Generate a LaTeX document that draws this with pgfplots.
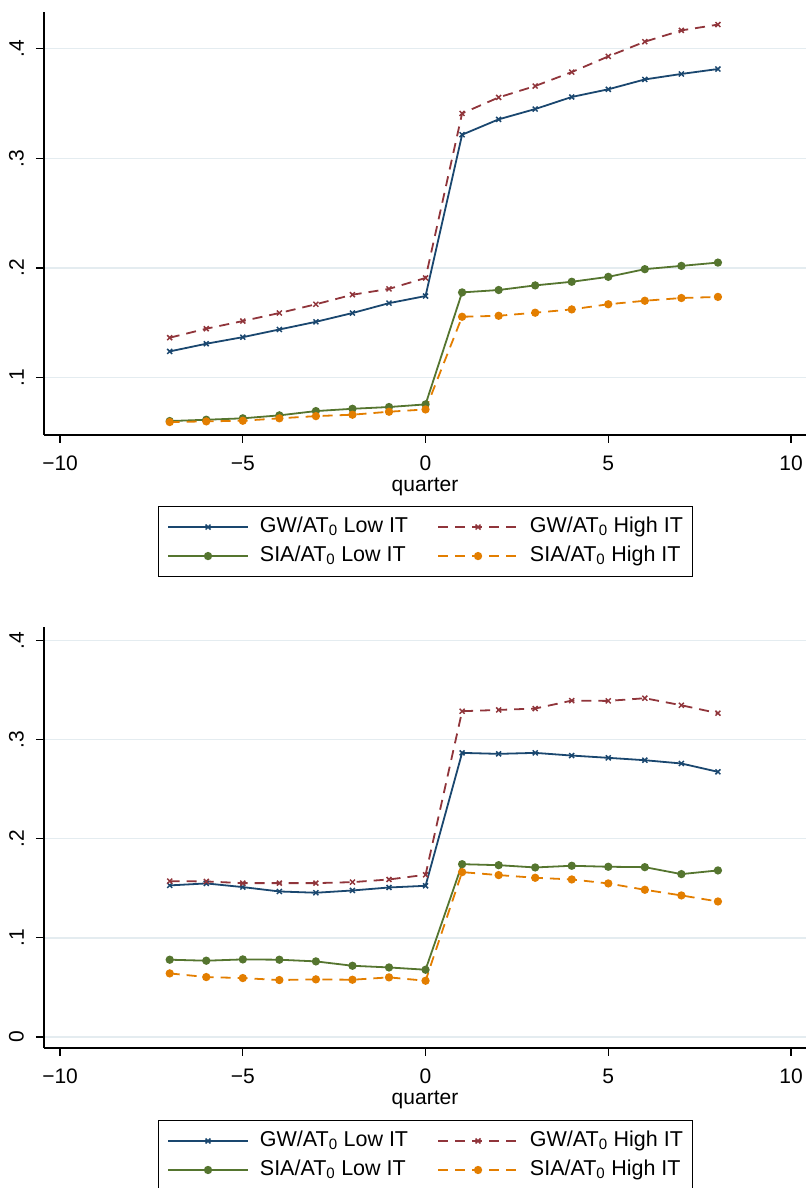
\documentclass[border=0pt]{standalone}
\usepackage{pgfplots}
\usepackage{pgfplotstable}
\pgfplotsset{compat=1.18}
\usepackage{fontspec}
\setmainfont{Liberation Sans}
\definecolor{snavy}{RGB}{26,71,111}
\definecolor{smaroon}{RGB}{144,53,59}
\definecolor{sgreen}{RGB}{85,117,47}
\definecolor{sorange}{RGB}{227,126,0}
\definecolor{sgrid}{RGB}{228,236,240}

\pgfplotstableread{
q gwlo gwhi sialo siahi
-7 0.124 0.1365 0.0605 0.0596
-6 0.131 0.1447 0.0617 0.0602
-5 0.137 0.1517 0.063 0.0608
-4 0.144 0.159 0.0657 0.063
-3 0.151 0.167 0.0696 0.065
-2 0.159 0.1757 0.0717 0.0663
-1 0.168 0.181 0.0733 0.069
0 0.1745 0.191 0.0757 0.0711
1 0.3216 0.341 0.1778 0.1556
2 0.3356 0.3556 0.18 0.1565
3 0.345 0.366 0.1842 0.1593
4 0.356 0.3787 0.1875 0.1623
5 0.363 0.393 0.192 0.167
6 0.372 0.4064 0.199 0.1702
7 0.377 0.4167 0.202 0.1727
8 0.3815 0.422 0.205 0.1737
}\toptable

\pgfplotstableread{
q gwlo gwhi sialo siahi
-7 0.1529 0.1572 0.078 0.0642
-6 0.1549 0.1569 0.077 0.0605
-5 0.1512 0.1552 0.0783 0.0595
-4 0.1468 0.1552 0.078 0.0575
-3 0.1455 0.1552 0.0763 0.0582
-2 0.1478 0.1562 0.0719 0.0578
-1 0.1508 0.1589 0.0702 0.0602
0 0.1525 0.1636 0.0679 0.0568
1 0.2865 0.3285 0.1743 0.1663
2 0.2855 0.3298 0.1733 0.1633
3 0.2865 0.3312 0.171 0.1606
4 0.2838 0.3392 0.1727 0.1589
5 0.2815 0.3389 0.1717 0.1549
6 0.2791 0.3416 0.1713 0.1485
7 0.2758 0.3345 0.1643 0.1428
8 0.2674 0.3265 0.168 0.1367
}\bottable

\newcommand{\rl}[1]{\rotatebox{90}{#1}}

\pgfplotsset{
 stata/.style={
  scale only axis, width=762pt,
  xmin=-10.44, xmax=10.41,
  axis x line*=bottom, axis y line*=left,
  axis line style={black, line width=1.2pt, -},
  tick align=outside, major tick length=8pt,
  tick style={black, line width=1.2pt},
  xtick={-10,-5,0,5,10}, xticklabels={−10,−5,0,5,10},
  ymajorgrids, grid style={sgrid, line width=1.5pt},
  ticklabel style={font=\fontsize{21}{25}\selectfont, inner sep=0pt},
  xticklabel shift=13pt,
  yticklabel style={anchor=east, xshift=-12pt},
  xlabel={quarter}, xlabel style={font=\fontsize{21}{25}\selectfont, yshift=-3pt},
  legend columns=2,
  legend image code/.code={\draw[mark repeat=2,mark phase=2,##1] plot coordinates {(0pt,0pt) (40pt,0pt) (80pt,0pt)};},
  legend style={anchor=north, draw=black, line width=1pt,
    font=\fontsize{21.5}{25}\selectfont,
    inner xsep=9pt, inner ysep=9.5pt, row sep=7pt, column sep=10pt,
    nodes={inner sep=1pt, text height=15.5pt, text depth=4.5pt},
    /tikz/every even column/.append style={column sep=28pt}},
  legend cell align=left,
 },
 gwlo/.style={snavy, line width=1.8pt, mark=x, mark size=3.5pt, mark options={solid, line width=1.5pt}},
 gwhi/.style={smaroon, line width=1.8pt, dash pattern=on 10pt off 7pt, mark=x, mark size=3.5pt, mark options={solid, line width=1.5pt}},
 sialo/.style={sgreen, line width=1.8pt, mark=*, mark size=3.2pt, mark options={solid}},
 siahi/.style={sorange, line width=1.8pt, dash pattern=on 10pt off 7pt, mark=*, mark size=3.2pt, mark options={solid}},
}

\begin{document}
\begin{tikzpicture}
\useasboundingbox (0,0) rectangle (806pt,1188pt);
\begin{axis}[stata, at={(44pt,753pt)}, anchor=south west, height=423pt,
  ymin=0.0478, ymax=0.4335, ytick={0.1,0.2,0.3,0.4}, yticklabels={\rl{.1},\rl{.2},\rl{.3},\rl{.4}},
  legend style={at={(0.5007,-0.168)}}]
\addplot[gwlo] table[x=q,y=gwlo] {\toptable};
\addlegendentry{GW/AT\textsubscript{0} Low IT}
\addplot[gwhi] table[x=q,y=gwhi] {\toptable};
\addlegendentry{GW/AT\textsubscript{0} High IT}
\addplot[sialo] table[x=q,y=sialo] {\toptable};
\addlegendentry{SIA/AT\textsubscript{0} Low IT}
\addplot[siahi] table[x=q,y=siahi] {\toptable};
\addlegendentry{SIA/AT\textsubscript{0} High IT}
\end{axis}
\begin{axis}[stata, at={(44pt,140pt)}, anchor=south west, height=421pt,
  ymin=-0.011, ymax=0.4134, ytick={0,0.1,0.2,0.3,0.4}, yticklabels={\rl{0},\rl{.1},\rl{.2},\rl{.3},\rl{.4}},
  legend style={at={(0.5007,-0.171)}}]
\addplot[gwlo] table[x=q,y=gwlo] {\bottable};
\addlegendentry{GW/AT\textsubscript{0} Low IT}
\addplot[gwhi] table[x=q,y=gwhi] {\bottable};
\addlegendentry{GW/AT\textsubscript{0} High IT}
\addplot[sialo] table[x=q,y=sialo] {\bottable};
\addlegendentry{SIA/AT\textsubscript{0} Low IT}
\addplot[siahi] table[x=q,y=siahi] {\bottable};
\addlegendentry{SIA/AT\textsubscript{0} High IT}
\end{axis}
\end{tikzpicture}
\end{document}
